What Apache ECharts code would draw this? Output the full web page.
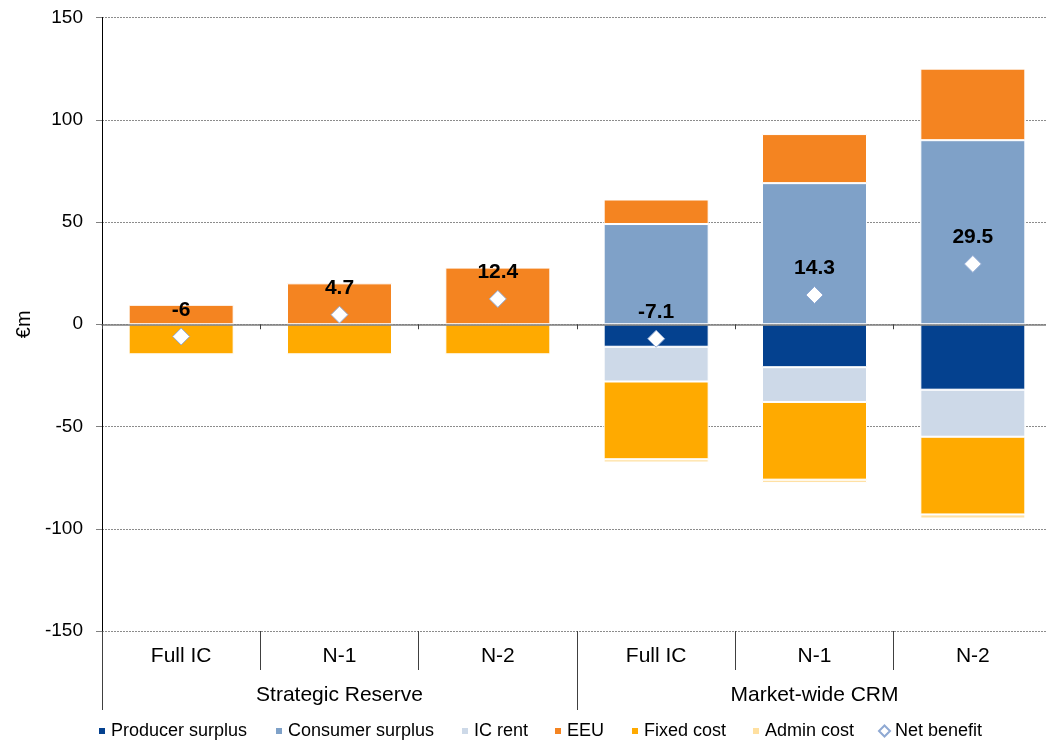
<!DOCTYPE html>
<html>
<head>
<meta charset="utf-8">
<script src="https://cdn.jsdelivr.net/npm/echarts@6/dist/echarts.min.js"></script>
<style>
html,body{margin:0;padding:0;background:#fff;overflow:hidden;}
#chart{width:1060px;height:741px;}
</style>
</head>
<body>
<div id="chart"></div>
<script>
const categories = ['Full IC', 'N-1', 'N-2', 'Full IC', 'N-1', 'N-2'];
const groups = ['Strategic Reserve', 'Market-wide CRM'];
const yTicks = [-150, -100, -50, 0, 50, 100, 150];

const producerSurplus = [null, null, null, -11, -21, -32];
const consumerSurplus = [null, null, null, 49, 69, 90];
const icRent = [null, null, null, -17, -17, -23];
const eeu = [9.5, 20, 27.7, 12, 24, 35];
const fixedCost = [-14.7, -14.7, -14.7, -38, -38, -38];
const adminCost = [-0.6, -0.6, -0.6, -1.6, -1.6, -2];
const netBenefit = [-6, 4.7, 12.4, -7.1, 14.3, 29.5];

const seriesNames = ['Producer surplus', 'Consumer surplus', 'IC rent', 'EEU', 'Fixed cost', 'Admin cost', 'Net benefit'];
const colors = ['#04418F', '#7FA1C8', '#CDD9E8', '#F48421', '#FFAA00', '#FFE0A0'];
const barData = [producerSurplus, consumerSurplus, icRent, eeu, fixedCost, adminCost];

const FONT = 'Liberation Sans, Arial, sans-serif';

const chart = echarts.init(document.getElementById('chart'), null, {renderer: 'canvas'});

const barSeries = barData.map((d, i) => ({
  name: seriesNames[i],
  type: 'bar',
  stack: 'total',
  xAxisIndex: 0,
  yAxisIndex: 0,
  barWidth: 105,
  data: d,
  itemStyle: {color: colors[i], borderColor: '#ffffff', borderWidth: 1},
  z: 2
}));

const legendLefts = [97, 274, 460, 553, 630, 751, 878];
const legends = seriesNames.map((n, i) => ({
  data: [i === 6 ? {name: n, icon: 'diamond'} : {name: n, icon: 'rect'}],
  left: legendLefts[i],
  top: 722,
  padding: 0,
  itemWidth: i === 6 ? 11 : 8,
  itemHeight: i === 6 ? 11 : 8,
  textStyle: {fontFamily: FONT, fontSize: 18, lineHeight: 18, color: '#000'},
  selectedMode: false
}));

chart.setOption({
  animation: false,
  backgroundColor: '#ffffff',
  textStyle: {fontFamily: FONT},
  legend: legends,
  grid: {left: 102, top: 17.5, width: 950, height: 613.5, containLabel: false},
  xAxis: [
    {
      type: 'category',
      data: categories,
      position: 'bottom',
      axisLine: {onZero: true, lineStyle: {color: '#7F7F7F', width: 1.5}},
      axisTick: {show: true, length: 5, lineStyle: {color: '#404040'}},
      axisLabel: {show: false},
      splitLine: {show: false},
      z: 3
    },
    {
      type: 'category',
      data: categories,
      position: 'bottom',
      offset: 0,
      axisLine: {show: false, onZero: false},
      axisTick: {show: true, length: 39, lineStyle: {color: '#404040'}},
      axisLabel: {show: true, fontSize: 21, color: '#000', margin: 15, fontFamily: FONT},
      splitLine: {show: false}
    },
    {
      type: 'category',
      data: groups,
      position: 'bottom',
      offset: 39,
      axisLine: {show: false, onZero: false},
      axisTick: {show: true, length: 40, lineStyle: {color: '#404040'}},
      axisLabel: {show: true, fontSize: 21, color: '#000', margin: 15, fontFamily: FONT},
      splitLine: {show: false}
    }
  ],
  yAxis: {
    type: 'value',
    min: yTicks[0],
    max: yTicks[yTicks.length - 1],
    interval: 50,
    name: '€m',
    nameLocation: 'middle',
    nameGap: 65,
    nameRotate: 90,
    nameTextStyle: {fontSize: 20, color: '#000', fontFamily: FONT},
    axisLine: {show: true, lineStyle: {color: '#000', width: 1}},
    axisTick: {show: true, length: 6, lineStyle: {color: '#808080'}},
    axisLabel: {fontSize: 19, color: '#000', margin: 19, fontFamily: FONT},
    splitLine: {show: true, lineStyle: {color: '#8C8C8C', type: [2, 1], width: 1}}
  },
  series: barSeries.concat([{
    name: 'Net benefit',
    type: 'scatter',
    xAxisIndex: 0,
    yAxisIndex: 0,
    symbol: 'diamond',
    symbolSize: 17,
    data: netBenefit,
    itemStyle: {color: '#ffffff', borderColor: '#8FA9D3', borderWidth: 1, opacity: 1},
    label: {
      show: true,
      position: 'top',
      distance: 7,
      fontSize: 21,
      fontWeight: 'bold',
      color: '#000',
      fontFamily: FONT
    },
    z: 5
  }])
});
</script>
</body>
</html>
